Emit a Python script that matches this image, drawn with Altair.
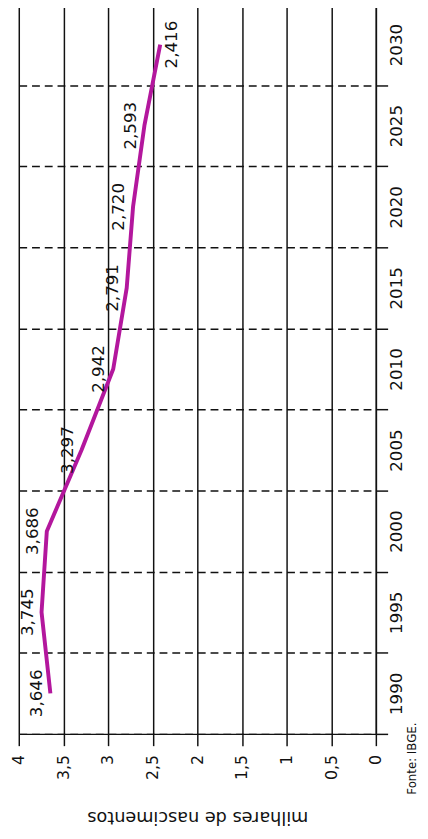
import altair as alt
import pandas as pd

# ---- data ----
years = [1990, 1995, 2000, 2005, 2010, 2015, 2020, 2025, 2030]
births = [3.646, 3.745, 3.686, 3.297, 2.942, 2.791, 2.720, 2.593, 2.416]
value_ticks = [0, 0.5, 1, 1.5, 2, 2.5, 3, 3.5, 4]
axis_title = "milhares de nascimentos"
source_note = ["Fonte: IBGE."]

FONT = "DejaVu Sans"
INK = "#111111"
LINE = "#b3179d"

df = pd.DataFrame({"ano": years, "nasc": births})
note_df = pd.DataFrame({"note": source_note})

x_enc = alt.X(
    "nasc:Q",
    scale=alt.Scale(domain=[0, 4], reverse=True, nice=False, zero=True),
    axis=alt.Axis(
        values=value_ticks,
        labelExpr="replace(format(datum.value, '~g'), '.', ',')",
        labelAngle=270,
        labelAlign="right",
        labelBaseline="middle",
        labelPadding=9,
        labelFont=FONT,
        labelFontSize=16,
        labelColor=INK,
        labelOverlap=False,
        labelFlush=False,
        tickSize=12,
        tickColor=INK,
        tickWidth=1.5,
        domainColor=INK,
        domainWidth=1.5,
        grid=True,
        gridColor=INK,
        gridWidth=1.5,
        gridOpacity=1,
        title=axis_title,
        titleAngle=180,
        titleFont=FONT,
        titleFontSize=18,
        titleFontWeight="normal",
        titleColor=INK,
        titleBaseline="bottom",
        titleAlign="center",
        titleX=182,
        titleY=75,
    ),
)

y_enc = alt.Y(
    "ano:O",
    sort="descending",
    scale=alt.Scale(type="band", paddingInner=0, paddingOuter=0),
    axis=alt.Axis(
        orient="right",
        tickBand="extent",
        labelAngle=270,
        labelAlign="center",
        labelBaseline="top",
        labelPadding=1,
        labelFont=FONT,
        labelFontSize=17,
        labelColor=INK,
        tickSize=12,
        tickColor=INK,
        tickWidth=1.5,
        domainColor=INK,
        domainWidth=1.5,
        grid=True,
        gridDash=[8, 5],
        gridColor=INK,
        gridWidth=1.5,
        gridOpacity=1,
        title=None,
    ),
)

base = alt.Chart(df).transform_calculate(
    lab="replace(format(datum.nasc, '.3f'), '.', ',')"
)

line = base.mark_line(color=LINE, strokeWidth=4, strokeJoin="round").encode(
    x=x_enc, y=y_enc
)

labels_left = (
    base.transform_filter(alt.datum.ano < 2030)
    .mark_text(angle=270, align="center", baseline="alphabetic", dy=-9,
               font=FONT, fontSize=17, color=INK)
    .encode(x="nasc:Q", y=alt.Y("ano:O", sort="descending"), text="lab:N")
)

labels_right = (
    base.transform_filter(alt.datum.ano == 2030)
    .mark_text(angle=270, align="center", baseline="top", dy=4,
               font=FONT, fontSize=17, color=INK)
    .encode(x="nasc:Q", y=alt.Y("ano:O", sort="descending"), text="lab:N")
)

note = (
    alt.Chart(note_df)
    .mark_text(angle=270, align="left", baseline="top", font=FONT,
               fontSize=12, color=INK)
    .encode(x=alt.value(396), y=alt.value(806), text="note:N")
)

chart = (
    alt.layer(line, labels_left, labels_right, note)
    .properties(
        width=364,
        height=744,
        autosize=alt.AutoSizeParams(type="none"),
        padding={"left": 11, "top": -12, "right": 45, "bottom": 90},
        background="white",
    )
    .configure_view(strokeWidth=0)
)

chart.save("out.html", embed_options={"renderer": "svg", "actions": False})
